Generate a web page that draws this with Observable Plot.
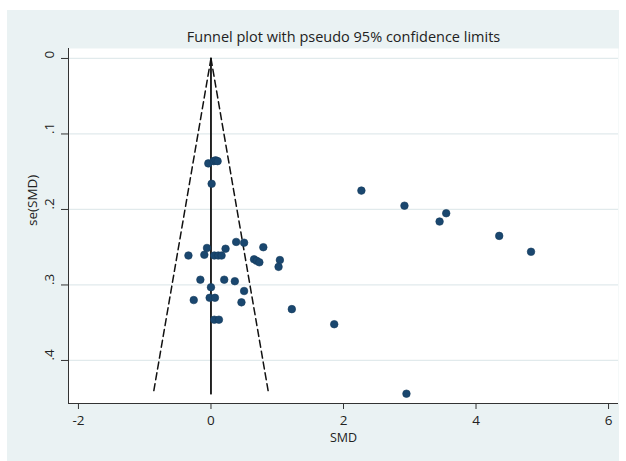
<!DOCTYPE html>
<html>
<head>
<meta charset="utf-8">
<script src="https://cdn.jsdelivr.net/npm/d3@7"></script>
<script src="https://cdn.jsdelivr.net/npm/@observablehq/plot@0.6"></script>
<style>
  html, body { margin: 0; padding: 0; background: #ffffff; width: 626px; height: 461px; overflow: hidden; }
  #panel { position: absolute; left: 7px; top: 10px; width: 612px; height: 451px; background: #eaf2f3; }
  svg { display: block; }
</style>
</head>
<body>
<div id="panel"></div>
<script>
const title = "Funnel plot with pseudo 95% confidence limits";
const xLabel = "SMD";
const yLabel = "se(SMD)";
const xTicks = [-2, 0, 2, 4, 6];
const yTicks = [0, 0.1, 0.2, 0.3, 0.4];
const xDomain = [-2.15, 6.15];
const yDomain = [-0.0132, 0.457];
const pooled = 0;
const zCrit = 1.96;

const smd = [-0.04, 0.04, 0.07, 0.10, 0.01, 0.38, 0.50, 0.79, -0.06, 0.22,
             -0.34, -0.10, 0.05, 0.11, 0.16, 0.65, 0.69, 0.73, 1.04, 1.02,
             -0.16, 0.20, 0.36, 0.00, 0.50, -0.26, -0.02, 0.06, 0.46, 1.22,
             1.86, 0.05, 0.12, 2.27, 2.92, 3.55, 3.45, 4.35, 4.83, 2.95];
const se  = [0.139, 0.136, 0.135, 0.136, 0.166, 0.243, 0.244, 0.250, 0.251, 0.252,
             0.261, 0.260, 0.261, 0.261, 0.261, 0.266, 0.268, 0.270, 0.267, 0.276,
             0.293, 0.293, 0.295, 0.303, 0.308, 0.320, 0.317, 0.317, 0.323, 0.332,
             0.352, 0.346, 0.346, 0.175, 0.195, 0.205, 0.216, 0.235, 0.256, 0.444];

const points = smd.map((x, i) => ({x, y: se[i]}));
const seMax = d3.max(se);
const leftLimit = [{x: pooled, y: 0}, {x: pooled - zCrit * seMax, y: seMax}];
const rightLimit = [{x: pooled, y: 0}, {x: pooled + zCrit * seMax, y: seMax}];
const centre = [{x: pooled, y: 0}, {x: pooled, y: seMax}];

const fmtY = d => d === 0 ? "0" : String(d).replace(/^0/, "");
const fmtX = d => String(d);
const font = "'Open Sans', 'Noto Sans', sans-serif";

const chart = Plot.plot({
  width: 612,
  height: 451,
  marginLeft: 61,
  marginRight: 1,
  marginTop: 38,
  marginBottom: 58,
  style: {background: "transparent", fontFamily: font, fontSize: "13px", color: "#222"},
  x: {domain: xDomain, type: "linear"},
  y: {domain: yDomain, reverse: true, type: "linear"},
  marks: [
    Plot.frame({fill: "white", stroke: null}),
    Plot.gridY(yTicks, {stroke: "#e1eaec", strokeOpacity: 1, strokeWidth: 1.2}),
    Plot.axisX(xTicks, {anchor: "bottom", tickSize: 6, tickPadding: 6, tickFormat: fmtX, label: null, fontSize: 13.5, stroke: "#333"}),
    Plot.axisY(yTicks, {anchor: "left", tickSize: 7, tickFormat: () => "", label: null, stroke: "#333"}),
    Plot.ruleX([xDomain[0]], {stroke: "#333", strokeWidth: 1}),
    Plot.ruleY([yDomain[1]], {stroke: "#333", strokeWidth: 1}),
    Plot.text(yTicks, {y: d => d, text: fmtY, frameAnchor: "left", dx: -19, rotate: -90, fontSize: 13.5, fill: "#222"}),
    Plot.text([yLabel], {frameAnchor: "left", dx: -36, rotate: -90, fontSize: 13.5, fill: "#222"}),
    Plot.text([xLabel], {frameAnchor: "bottom", lineAnchor: "middle", dy: 34, fontSize: 12.5, fill: "#222"}),
    Plot.text([title], {frameAnchor: "top", lineAnchor: "middle", dy: -11, fontSize: 14.5, fill: "#222"}),
    Plot.line(leftLimit, {x: "x", y: "y", stroke: "#111", strokeWidth: 1.5, strokeDasharray: "7,4"}),
    Plot.line(rightLimit, {x: "x", y: "y", stroke: "#111", strokeWidth: 1.5, strokeDasharray: "7,4"}),
    Plot.line(centre, {x: "x", y: "y", stroke: "#111", strokeWidth: 1.8}),
    Plot.dot(points, {x: "x", y: "y", r: 3.8, fill: "#1a476f", stroke: "#143a5c", strokeWidth: 0.6})
  ]
});
document.getElementById("panel").appendChild(chart);
</script>
</body>
</html>
